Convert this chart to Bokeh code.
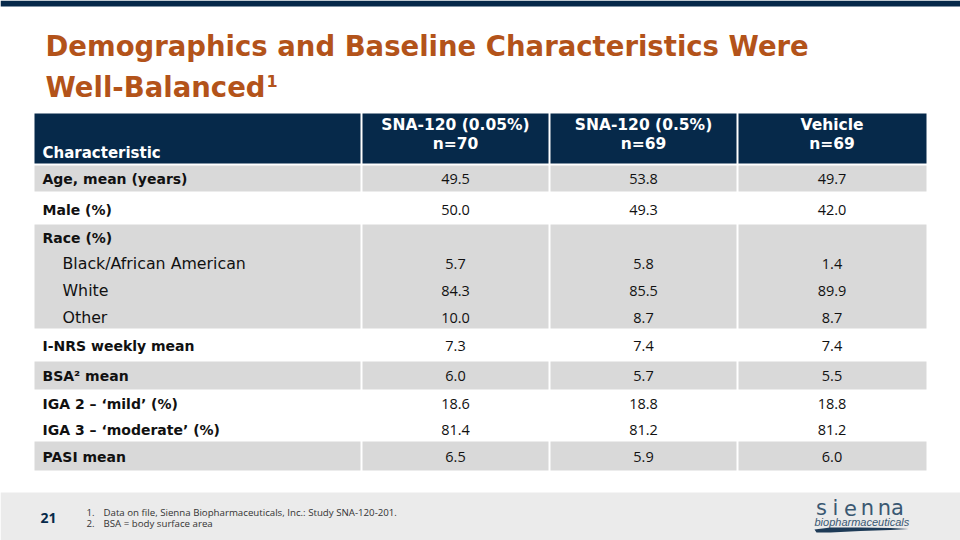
from bokeh.plotting import figure
from bokeh.models import Range1d, ColumnDataSource
from bokeh.core.properties import value
from bokeh.embed import file_html
from bokeh.resources import INLINE

# ---------------- data ----------------
title_lines = ["Demographics and Baseline Characteristics Were", "Well-Balanced"]
title_sup = "1"
col_headers = ["SNA-120 (0.05%)", "SNA-120 (0.5%)", "Vehicle"]
col_ns = ["n=70", "n=69", "n=69"]
first_header = "Characteristic"
labels = ["Age, mean (years)", "Male (%)", "Race (%)", "Black/African American", "White",
          "Other", "I-NRS weekly mean", "BSA² mean", "IGA 2 – ‘mild’ (%)",
          "IGA 3 – ‘moderate’ (%)", "PASI mean"]
label_is_sub = [False, False, False, True, True, True, False, False, False, False, False]
sna_005 = ["49.5", "50.0", "", "5.7", "84.3", "10.0", "7.3", "6.0", "18.6", "81.4", "6.5"]
sna_05 = ["53.8", "49.3", "", "5.8", "85.5", "8.7", "7.4", "5.7", "18.8", "81.2", "5.9"]
vehicle = ["49.7", "42.0", "", "1.4", "89.9", "8.7", "7.4", "5.5", "18.8", "81.2", "6.0"]
footnote_nums = ["1.", "2."]
footnotes = ["Data on file, Sienna Biopharmaceuticals, Inc.: Study SNA-120-201.",
             "BSA = body surface area"]
page_number = "21"
logo_word = "sienna"
logo_sub = "biopharmaceuticals"

# ---------------- layout (pixel coords) ----------------
W, H = 960, 540
FONT = value("Open Sans")
WIDE = value("DejaVu Sans")
NAVY = "#06294A"
ORANGE = "#B3531A"
GRAY = "#D9D9D9"
TXT = "#111111"
col_edges = [34, 361, 549, 737, 926]
header_top, header_bot = 113, 163
bands = [(165, 191, True), (191, 224, False), (224, 328, True), (328, 360, False),
         (361, 389, True), (389, 441, False), (441, 470, True)]
row_y = [178, 209, 237, 263, 290, 317, 345, 375, 403, 429, 456]

p = figure(width=W, height=H, x_range=Range1d(0, W), y_range=Range1d(H, 0),
           output_backend="svg", toolbar_location=None, min_border=0)
p.axis.visible = False
p.grid.visible = False
p.outline_line_color = None
p.background_fill_color = "white"
p.border_fill_color = "white"

# top bar
p.quad(left=[0], right=[W], top=[0], bottom=[6], fill_color=NAVY, line_color=None)

# title
p.text(x=[45, 45], y=[45, 86], text=title_lines, text_font=WIDE, text_font_style="bold",
       text_font_size="27.5px", text_color=ORANGE, text_baseline="middle")
p.text(x=[266], y=[80], text=[title_sup], text_font=WIDE, text_font_style="bold",
       text_font_size="16px", text_color=ORANGE, text_baseline="middle")

# header cells
hl, hr = [], []
for i in range(4):
    hl.append(col_edges[i] + (1 if i > 0 else 0))
    hr.append(col_edges[i + 1] - (1 if i < 3 else 0))
p.quad(left=hl, right=hr, top=[header_top] * 4, bottom=[header_bot] * 4,
       fill_color=NAVY, line_color=None)

centers = [(col_edges[i] + col_edges[i + 1]) / 2 for i in range(1, 4)]
p.text(x=centers, y=[124] * 3, text=col_headers, text_font=WIDE, text_font_style="bold",
       text_font_size="15.5px", text_color="white", text_align="center", text_baseline="middle")
p.text(x=centers, y=[143] * 3, text=col_ns, text_font=WIDE, text_font_style="bold",
       text_font_size="15.5px", text_color="white", text_align="center", text_baseline="middle")
p.text(x=[42], y=[152], text=[first_header], text_font=WIDE, text_font_style="bold",
       text_font_size="15px", text_color="white", text_baseline="middle")

# body bands
bl, br, bt, bb = [], [], [], []
for (t, b, g) in bands:
    if not g:
        continue
    for i in range(4):
        bl.append(col_edges[i] + (1 if i > 0 else 0))
        br.append(col_edges[i + 1] - (1 if i < 3 else 0))
        bt.append(t)
        bb.append(b)
p.quad(left=bl, right=br, top=bt, bottom=bb, fill_color=GRAY, line_color=None)

# labels
main_idx = [i for i, s in enumerate(label_is_sub) if not s]
sub_idx = [i for i, s in enumerate(label_is_sub) if s]
p.text(x=[42] * len(main_idx), y=[row_y[i] for i in main_idx],
       text=[labels[i] for i in main_idx], text_font=WIDE, text_font_style="bold",
       text_font_size="14px", text_color=TXT, text_baseline="middle")
p.text(x=[62] * len(sub_idx), y=[row_y[i] for i in sub_idx],
       text=[labels[i] for i in sub_idx], text_font=WIDE,
       text_font_size="15.8px", text_color=TXT, text_baseline="middle")

# values
for ci, series in enumerate([sna_005, sna_05, vehicle]):
    src = ColumnDataSource(dict(x=[centers[ci]] * len(series), y=row_y, t=series))
    p.text(x="x", y="y", text="t", source=src, text_font=FONT, text_font_size="14.5px",
           text_color=TXT, text_align="center", text_baseline="middle")

# footer
p.quad(left=[0], right=[W], top=[492], bottom=[H], fill_color="#EBEBEB", line_color=None)
p.text(x=[40], y=[517], text=[page_number], text_font=FONT, text_font_style="bold",
       text_font_size="14px", text_color=NAVY, text_baseline="middle")
p.text(x=[86, 86], y=[512, 523], text=footnote_nums, text_font=FONT,
       text_font_size="9.7px", text_color="#333333", text_baseline="middle")
p.text(x=[103, 103], y=[512, 523], text=footnotes, text_font=FONT,
       text_font_size="9.7px", text_color="#333333", text_baseline="middle")

# logo
lx = [821, 835, 850, 867, 884, 897]
p.text(x=lx, y=[507] * 6, text=list(logo_word), text_font=value("DejaVu Sans"),
       text_font_style="normal", text_font_size="21px", text_color="#3A5872",
       text_align="center", text_baseline="middle")
p.text(x=[814], y=[521], text=[logo_sub], text_font=value("Liberation Sans"),
       text_font_style="italic", text_font_size="11px", text_color="#3A5872",
       text_baseline="middle")
p.patch(x=[814, 830, 860, 890, 908, 890, 860, 830, 816],
        y=[529, 527, 527, 527.5, 528.5, 529.5, 530.5, 532, 532],
        fill_color="#1E3B57", line_color=None)

open("out.html", "w").write(file_html(p, INLINE))
